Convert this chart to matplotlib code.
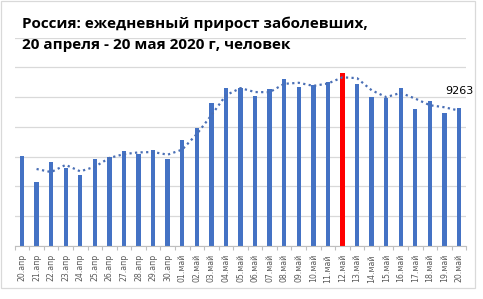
import matplotlib
matplotlib.use("Agg")
import matplotlib.pyplot as plt
from matplotlib.patches import Rectangle
import pandas as pd
import numpy as np

dates = ["20.апр", "21.апр", "22.апр", "23.апр", "24.апр", "25.апр", "26.апр", "27.апр",
         "28.апр", "29.апр", "30.апр", "01.май", "02.май", "03.май", "04.май", "05.май",
         "06.май", "07.май", "08.май", "09.май", "10.май", "11.май", "12.май", "13.май",
         "14.май", "15.май", "16.май", "17.май", "18.май", "19.май", "20.май"]
cases = [6060, 4268, 5642, 5236, 4774, 5849, 5966, 6361, 6198, 6411, 5841, 7099, 7933,
         9623, 10633, 10581, 10102, 10559, 11231, 10699, 10817, 11012, 11656, 10899,
         10028, 9974, 10598, 9200, 9709, 8926, 9263]
highlight = "12.май"
title_lines = ["Россия: ежедневный прирост заболевших,", "20 апреля - 20 мая 2020 г, человек"]

W, H = 483, 299
fig = plt.figure(figsize=(W / 100, H / 100), dpi=100)
ax = fig.add_axes([14.7 / W, 1 - 245.7 / H, (466.3 - 14.7) / W, (245.7 - 37.7) / H])

x = np.arange(len(dates))
colors = ["#ff0000" if d == highlight else "#4472c4" for d in dates]
ax.bar(x, cases, width=0.3, color=colors, zorder=2)

ma = pd.Series(cases).rolling(2).mean()
ax.plot(x, ma, linestyle=(0, (1, 1.5)), color="#4a6fb5", linewidth=1.6, zorder=3)

ax.set_xlim(-0.5, len(dates) - 0.5)
ax.set_ylim(0, 14000)
ax.set_yticks(np.arange(0, 14001, 2000))
ax.yaxis.grid(True, color="#d9d9d9", linewidth=0.9, zorder=0)
ax.tick_params(axis="y", left=False, labelleft=False)
ax.set_xticks(x)
ax.set_xticklabels(dates, rotation=90, fontsize=5.6, color="#595959", family="DejaVu Sans")
ax.set_xticks(np.arange(-0.5, len(dates), 1), minor=True)
ax.tick_params(axis="x", which="major", length=0, pad=6)
ax.tick_params(axis="x", which="minor", length=3, color="#bfbfbf", width=0.8)
for s in ["left", "right", "top"]:
    ax.spines[s].set_visible(False)
ax.spines["bottom"].set_color("#bfbfbf")
ax.spines["bottom"].set_linewidth(0.8)
ax.set_axisbelow(True)

ax.annotate(str(cases[-1]), xy=(x[-1], cases[-1]), xytext=(0, 9), textcoords="offset points",
            ha="center", va="bottom", fontsize=8, color="#000000", family="DejaVu Sans")

for i, line in enumerate(title_lines):
    fig.text(22 / W, 1 - (23.5 + 21 * i) / H, line, fontsize=11, fontweight="bold",
             family="Open Sans", va="center", ha="left", color="#000000", zorder=5)

fig.patches.append(Rectangle((1 / W, 1 - 288 / H), 474 / W, 287 / H, transform=fig.transFigure,
                             fill=False, edgecolor="#d9d9d9", linewidth=0.9))

fig.savefig("out.png", dpi=100, facecolor="white")
